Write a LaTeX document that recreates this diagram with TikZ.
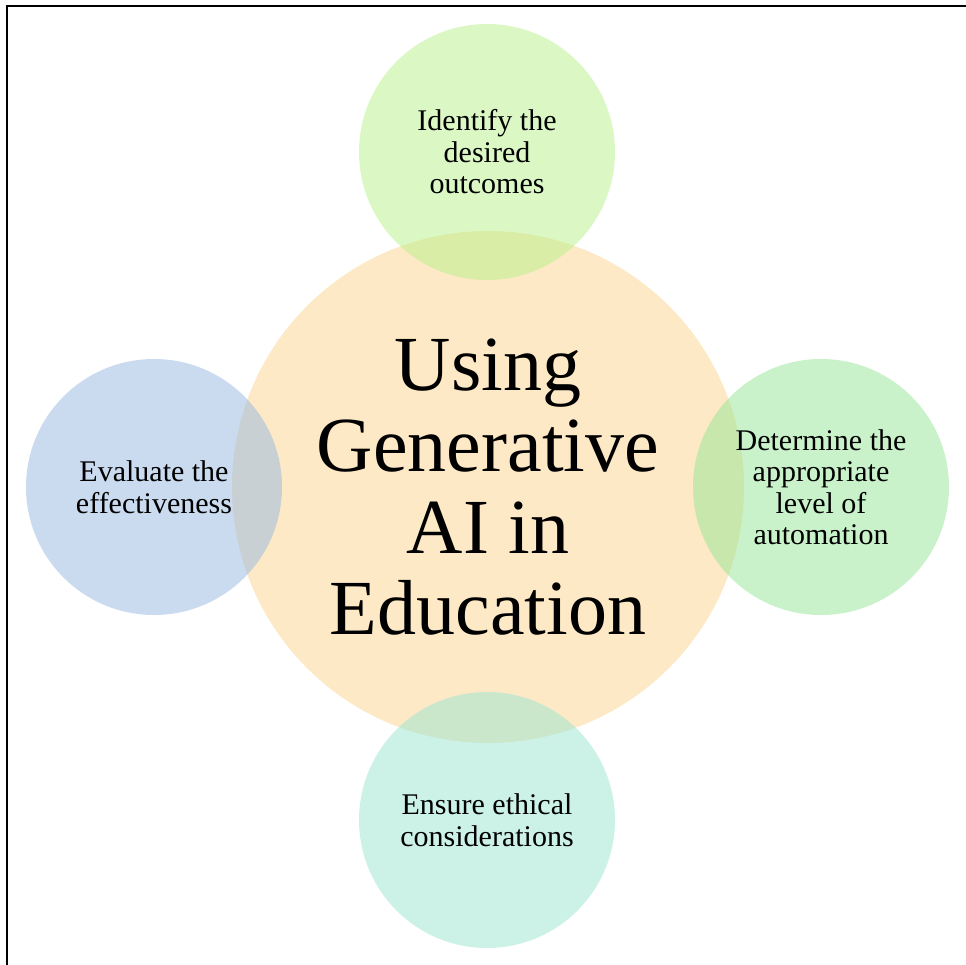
\documentclass[tikz,border=0pt]{standalone}
\usepackage{fontspec}
\setmainfont{Liberation Serif}
\definecolor{orangeC}{RGB}{251,211,141}
\definecolor{greenT}{RGB}{183,241,137}
\definecolor{greenR}{RGB}{147,229,149}
\definecolor{tealB}{RGB}{153,229,209}
\definecolor{blueL}{RGB}{149,183,225}
\begin{document}
\begin{tikzpicture}[x=1pt,y=-1pt,
  big/.style={circle, inner sep=0pt, minimum size=512pt, fill=orangeC, fill opacity=0.5, text opacity=1, align=center, font=\fontsize{78}{81.3}\selectfont},
  small/.style={circle, inner sep=0pt, minimum size=256pt, fill opacity=0.5, text opacity=1, align=center, font=\fontsize{30}{31.5}\selectfont},
  frame/.style={line width=1.7pt, line cap=rect}]
\useasboundingbox (0,0) rectangle (966,964);
\node[big] (core) at (488,487) {Using\\Generative\\AI in\\Education};
\node[small, fill=greenT] (top) at (487,152) {Identify the\\desired\\outcomes};
\node[small, fill=greenR] (right) at (821,487) {Determine the\\appropriate\\level of\\automation};
\node[small, fill=tealB] (bottom) at (487,820) {Ensure ethical\\considerations};
\node[small, fill=blueL] (left) at (154,487) {Evaluate the\\effectiveness};
\coordinate (fbl) at (6.7,966);
\coordinate (ftl) at (6.7,5.8);
\coordinate (ftr) at (968,5.8);
\draw[frame] (fbl) -- (ftl) -- (ftr);
\end{tikzpicture}
\end{document}
